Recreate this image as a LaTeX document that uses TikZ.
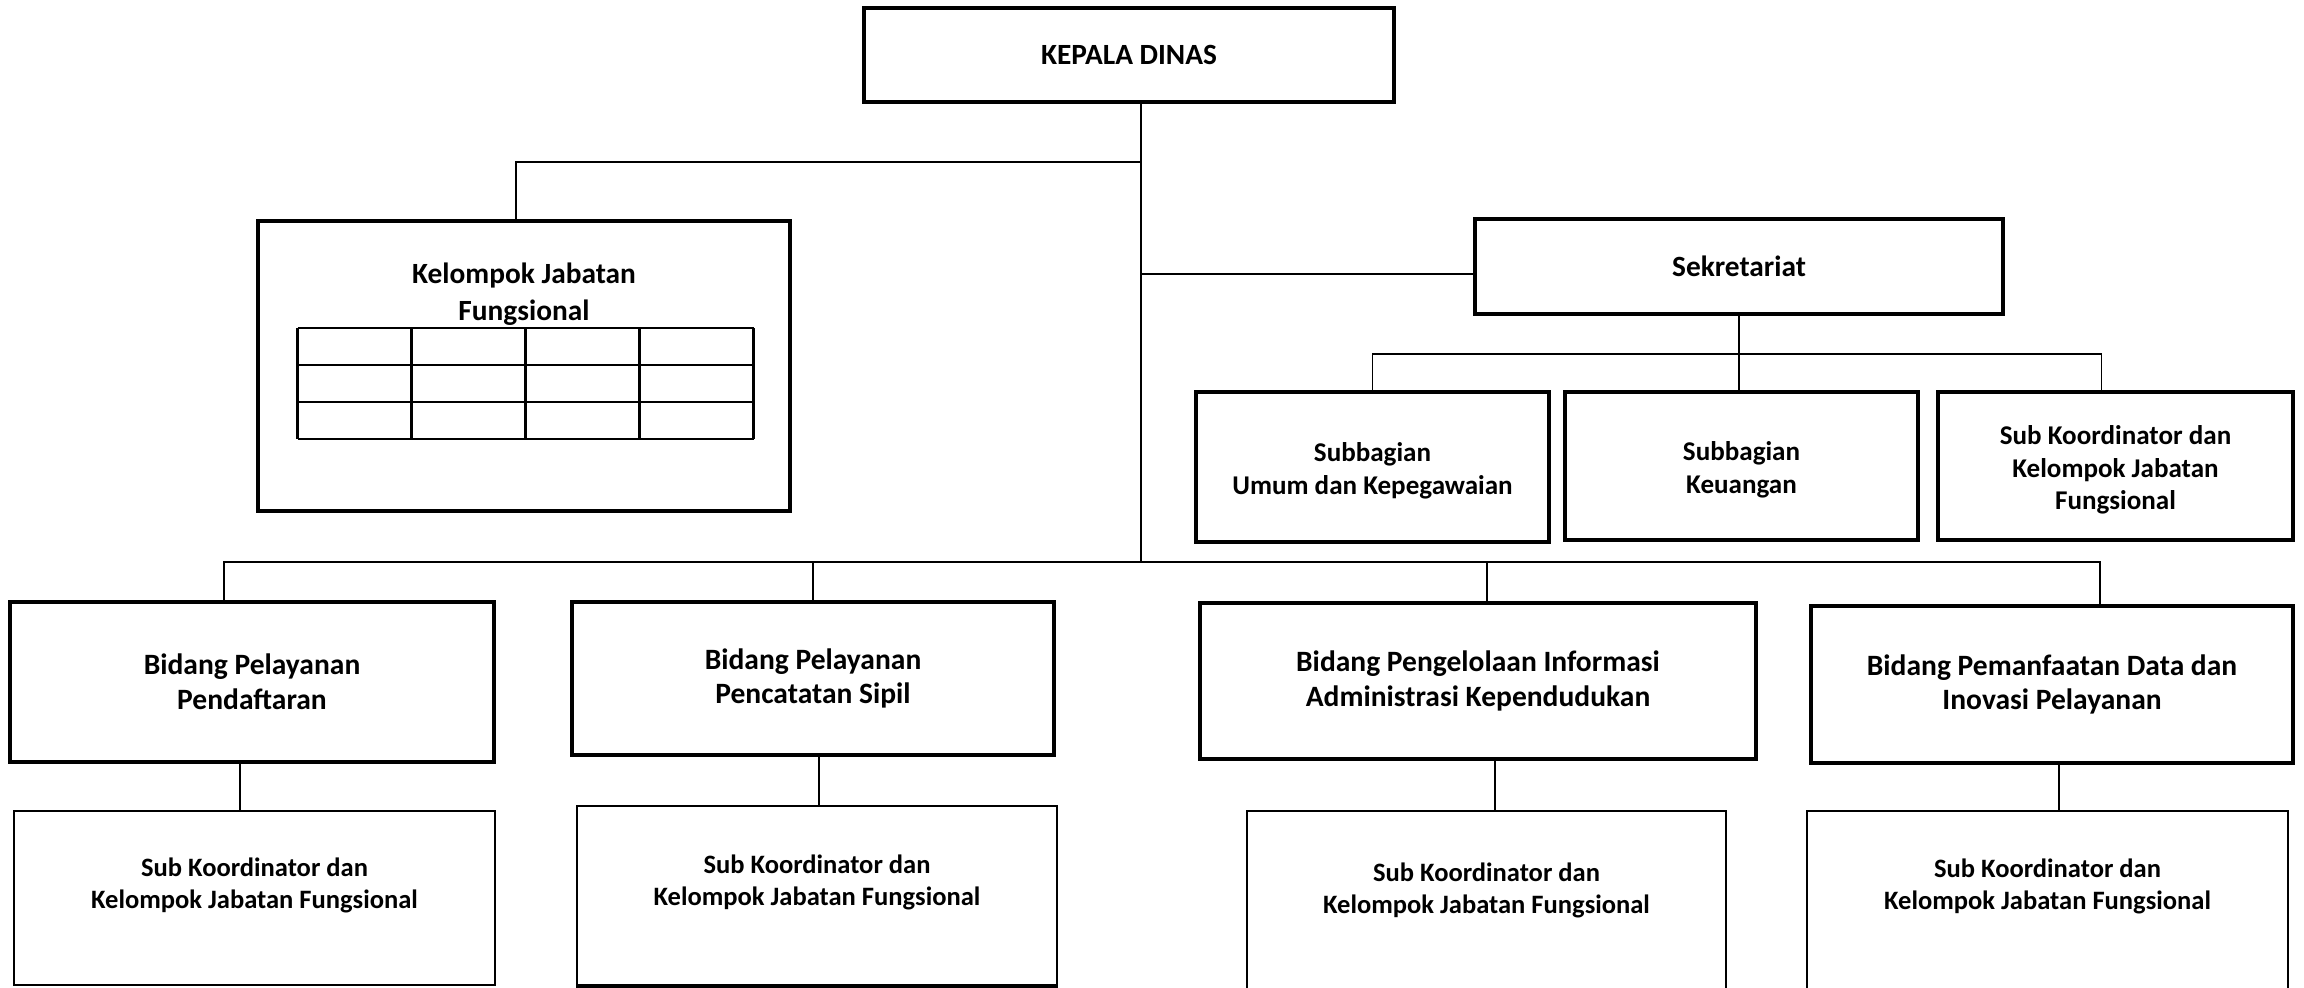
\documentclass[tikz,border=0pt]{standalone}
\usepackage{fontspec}
\setmainfont{Carlito}
\usetikzlibrary{positioning}

\begin{document}
\begin{tikzpicture}[font=\bfseries,
    unitbox/.style={draw, line width=1.2pt, align=center, inner sep=0pt},
    subbox/.style={draw, line width=0.5pt, align=center, inner sep=0pt},
    bigtext/.style={font=\fontsize{8.35}{9.7}\selectfont\bfseries},
    midtext/.style={font=\fontsize{8.4}{9.9}\selectfont\bfseries},
    unittext/.style={font=\fontsize{7.7}{9.3}\selectfont\bfseries, align=center, yshift=-0.04cm},
    smalltext/.style={font=\fontsize{7.55}{9.0}\selectfont\bfseries, align=center},
    link/.style={line width=0.5pt},
    tbl/.style={line width=0.6pt}]
    \useasboundingbox (0,0) rectangle (23.04,-9.87);
    \clip (0,0) rectangle (23.04,-9.87);
    % top
    \node[unitbox, bigtext, minimum width=5.30cm, minimum height=0.94cm] (kepala) at (11.29,-0.55) {KEPALA DINAS};
    \node[unitbox, minimum width=5.32cm, minimum height=2.90cm] (kjf) at (5.24,-3.66) {};
    \node[font=\fontsize{8.35}{10.4}\selectfont\bfseries, align=center] (kjftitle) at (5.24,-2.94) {Kelompok Jabatan\\Fungsional};
    \foreach \c in {0,...,4} \draw[tbl] (2.975+1.14*\c,-3.28) -- (2.975+1.14*\c,-4.39);
    \foreach \r in {0,...,3} \draw[tbl] (2.975,-3.28-0.37*\r) -- (7.535,-3.28-0.37*\r);
    \node[unitbox, bigtext, minimum width=5.28cm, minimum height=0.95cm] (sek) at (17.39,-2.665) {Sekretariat};
    % sekretariat units
    \node[unitbox, minimum width=3.53cm, minimum height=1.50cm] (suk) at (13.725,-4.67) {};
    \node[unitbox, minimum width=3.53cm, minimum height=1.48cm] (sk) at (17.415,-4.66) {};
    \node[unitbox, minimum width=3.55cm, minimum height=1.48cm] (skj) at (21.155,-4.66) {};
    \node[unittext] (sukt) at (suk) {Subbagian\\Umum dan Kepegawaian};
    \node[unittext] (skt) at (sk) {Subbagian\\Keuangan};
    \node[unittext] (skjt) at (skj) {Sub Koordinator dan\\Kelompok Jabatan\\Fungsional};
    % bidang
    \node[unitbox, midtext, minimum width=4.84cm, minimum height=1.60cm] (b1) at (2.52,-6.82) {Bidang Pelayanan\\Pendaftaran};
    \node[unitbox, midtext, minimum width=4.82cm, minimum height=1.53cm] (b2) at (8.13,-6.785) {Bidang Pelayanan\\Pencatatan Sipil};
    \node[unitbox, midtext, minimum width=5.56cm, minimum height=1.56cm] (b3) at (14.78,-6.81) {Bidang Pengelolaan Informasi\\Administrasi Kependudukan};
    \node[unitbox, midtext, minimum width=4.82cm, minimum height=1.57cm] (b4) at (20.52,-6.845) {Bidang Pemanfaatan Data dan\\Inovasi Pelayanan};
    % sub koordinator
    \node[subbox, minimum width=4.81cm, minimum height=1.74cm] (s1) at (2.545,-8.98) {};
    \node[subbox, minimum width=4.80cm, minimum height=1.79cm] (s2) at (8.17,-8.955) {};
    \node[subbox, minimum width=4.79cm, minimum height=1.89cm] (s3) at (14.865,-9.055) {};
    \node[subbox, minimum width=4.81cm, minimum height=1.89cm] (s4) at (20.475,-9.055) {};
    \draw[line width=1.2pt] (s2.south west) -- (s2.south east);
    \node[smalltext] (s1t) at ([yshift=-0.755cm]s1.north) {Sub Koordinator dan\\Kelompok Jabatan Fungsional};
    \node[smalltext] (s2t) at ([yshift=-0.77cm]s2.north) {Sub Koordinator dan\\Kelompok Jabatan Fungsional};
    \node[smalltext] (s3t) at ([yshift=-0.805cm]s3.north) {Sub Koordinator dan\\Kelompok Jabatan Fungsional};
    \node[smalltext] (s4t) at ([yshift=-0.765cm]s4.north) {Sub Koordinator dan\\Kelompok Jabatan Fungsional};
    % lines
    \coordinate (trunk) at (11.41,-5.62);
    \coordinate (jk) at (11.41,-1.62);
    \coordinate (js) at (11.41,-2.74);
    \coordinate (sbus) at (17.36,-3.54);
    \draw[link] (kepala.south -| trunk) -- (trunk);
    \draw[link] ([xshift=-0.08cm]kjf.north) |- (jk);
    \draw[link] (js) -- (sek.west |- js);
    \draw[link] (sek.south) -- (sek.south |- sk.north);
    \draw[link] (suk.north) |- ([xshift=-0.14cm]skj.north |- sbus) -- ([xshift=-0.14cm]skj.north);
    \draw[link] ([xshift=-0.28cm]b1.north) |- (trunk) -| ([xshift=0.48cm]b4.north);
    \draw[link] (b2.north) -- (b2.north |- trunk);
    \draw[link] ([xshift=0.09cm]b3.north) -- ([xshift=0.09cm]b3.north |- trunk);
    \draw[link] ([xshift=-0.12cm]b1.south) -- ([xshift=-0.12cm]b1.south |- s1.north);
    \draw[link] ([xshift=0.06cm]b2.south) -- ([xshift=0.06cm]b2.south |- s2.north);
    \draw[link] ([xshift=0.17cm]b3.south) -- ([xshift=0.17cm]b3.south |- s3.north);
    \draw[link] ([xshift=0.07cm]b4.south) -- ([xshift=0.07cm]b4.south |- s4.north);
\end{tikzpicture}
\end{document}
